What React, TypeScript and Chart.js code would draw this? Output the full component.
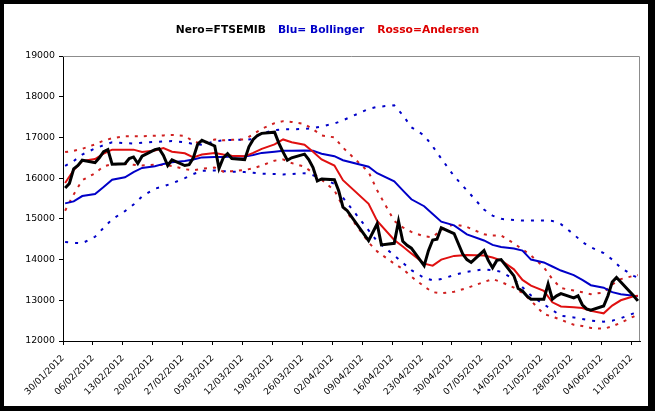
import { useEffect, useRef } from "react";
import { Chart, registerables } from "chart.js";

Chart.register(...registerables);

// weekly labels on the date axis (one every 7 days from 30/01/2012)
const weekLabels = [
  "30/01/2012", "06/02/2012", "13/02/2012", "20/02/2012", "27/02/2012",
  "05/03/2012", "12/03/2012", "19/03/2012", "26/03/2012", "02/04/2012",
  "09/04/2012", "16/04/2012", "23/04/2012", "30/04/2012", "07/05/2012",
  "14/05/2012", "21/05/2012", "28/05/2012", "04/06/2012", "11/06/2012",
];

// trading days, counted in calendar days from 30/01/2012
const tradeDays = [
  0, 1, 2, 3, 4, 7, 8, 9, 10, 11, 14, 15, 16, 17, 18, 21, 22, 23, 24, 25,
  28, 29, 30, 31, 32, 35, 36, 37, 38, 39, 42, 43, 44, 45, 46, 49, 50, 51, 52, 53,
  56, 57, 58, 59, 60, 63, 64, 65, 66, 71, 72, 73, 74, 77, 78, 79, 80, 81,
  84, 85, 86, 87, 88, 91, 93, 94, 95, 98, 99, 100, 101, 102,
  105, 106, 107, 108, 109, 112, 113, 114, 115, 116, 119, 120, 121, 122, 123,
  126, 127, 128, 129, 130, 133, 134,
];

const ftsemib = [
  15760, 15870, 16230, 16310, 16440, 16380, 16500, 16650, 16700, 16340,
  16355, 16480, 16520, 16360, 16540, 16700, 16725, 16560, 16310, 16450,
  16310, 16330, 16500, 16830, 16930, 16790, 16240, 16500, 16600, 16480,
  16455, 16770, 16950, 17050, 17100, 17130, 16860, 16640, 16440, 16500,
  16590, 16455, 16260, 15930, 15980, 15960, 15690, 15290, 15200,
  14465, 14670, 14880, 14360, 14400, 14940, 14450, 14350, 14280,
  13850, 14220, 14480, 14500, 14780, 14640, 14140, 14000, 13930,
  14220, 13980, 13800, 13980, 14000, 13600, 13290, 13230, 13110, 13025,
  13025, 13400, 13025, 13110, 13165, 13060, 13110, 12890, 12790, 12755,
  12860, 13110, 13450, 13560, 13450, 13110, 12985,
];

// days at which the smoother lines were read
const bandDays = [
  0, 2, 4, 7, 9, 11, 14, 16, 18, 21, 23, 25, 28, 30, 32, 35, 37, 39, 42, 44,
  46, 49, 51, 53, 56, 58, 60, 63, 65, 71, 73, 77, 79, 81, 84, 86, 88, 91, 94, 98,
  100, 102, 105, 107, 109, 112, 114, 116, 119, 121, 123, 126, 128, 130, 133, 134,
];

const bollMid = [
  15380, 15430, 15560, 15610, 15780, 15960, 16020, 16150, 16250, 16290,
  16350, 16390, 16420, 16460, 16510, 16520, 16520, 16530, 16530, 16570,
  16620, 16650, 16670, 16670, 16680, 16670, 16600, 16540, 16440, 16280,
  16120, 15920, 15700, 15480, 15310, 15120, 14930, 14840, 14620, 14470,
  14360, 14310, 14270, 14220, 14000, 13930, 13830, 13730, 13620, 13500,
  13370, 13310, 13200, 13150, 13110, 13100,
];

const bollUp = [
  16300, 16420, 16580, 16730, 16810, 16880, 16860, 16850, 16870, 16890,
  16900, 16910, 16880, 16840, 16820, 16900, 16930, 16940, 16940, 16960,
  17100, 17180, 17200, 17200, 17210, 17230, 17270, 17340, 17420, 17700,
  17750, 17790, 17550, 17250, 17050, 16780, 16480, 16050, 15700, 15230,
  15080, 15000, 14970, 14960, 14960, 14960, 14950, 14870, 14620, 14430,
  14300, 14160, 14000, 13800, 13600, 13560,
];

const bollLow = [
  14430, 14410, 14400, 14560, 14780, 14990, 15190, 15350, 15550, 15740,
  15800, 15870, 16000, 16100, 16180, 16190, 16170, 16160, 16150, 16130,
  16110, 16100, 16090, 16100, 16120, 16070, 15990, 15860, 15520, 14720,
  14450, 14100, 13920, 13740, 13550, 13490, 13520, 13620, 13700, 13760,
  13740, 13700, 13520, 13320, 13120, 12900, 12760, 12620, 12580, 12540,
  12500, 12475, 12500, 12560, 12680, 12720,
];

const andMid = [
  15880, 16200, 16420, 16470, 16600, 16700, 16700, 16700, 16640, 16680,
  16740, 16650, 16610, 16510, 16580, 16620, 16580, 16550, 16535, 16620,
  16720, 16830, 16950, 16880, 16820, 16650, 16460, 16310, 15950, 15370,
  14950, 14480, 14320, 14150, 13900, 13850, 14000, 14090, 14110, 14100,
  14050, 13980, 13760, 13500, 13360, 13230, 12950, 12850, 12830, 12810,
  12740, 12680, 12870, 13000, 13100, 13110,
];

const andUp = [
  16640, 16670, 16720, 16830, 16920, 16980, 17030, 17030, 17030, 17040,
  17050, 17060, 17040, 16900, 16850, 16950, 16930, 16940, 16950, 17080,
  17210, 17350, 17400, 17380, 17330, 17200, 17050, 17000, 16750, 16150,
  15700, 14950, 14790, 14680, 14570, 14550, 14730, 14870, 14800, 14620,
  14590, 14590, 14400, 14250, 14100, 13810, 13520, 13300, 13240, 13200,
  13150, 13190, 13390, 13520, 13600, 13620,
];

const andLow = [
  15200, 15600, 15950, 16120, 16290, 16340, 16350, 16330, 16310, 16330,
  16320, 16300, 16220, 16190, 16230, 16260, 16160, 16170, 16200, 16240,
  16310, 16430, 16460, 16370, 16280, 16130, 15960, 15700, 15300, 14420,
  14200, 13900, 13770, 13580, 13340, 13200, 13170, 13210, 13300, 13450,
  13520, 13450, 13310, 13180, 12990, 12660, 12600, 12520, 12400, 12370,
  12320, 12300, 12360, 12450, 12600, 12660,
];

const BLUE = "#0000c8";
const RED = "#e01010";
const RED_BAND = "#d02020";

// each day is drawn in the middle of its slot on the date axis
const toPoints = (days: number[], vals: number[]) =>
  days.map((d, i) => ({ x: d + 0.5, y: vals[i] }));

const plotFrame = {
  id: "plotFrame",
  beforeDatasetsDraw(chart: any) {
    const { ctx, chartArea } = chart;
    const { left, top, right, bottom } = chartArea;
    ctx.save();
    ctx.strokeStyle = "#8c8c8c";
    ctx.lineWidth = 1;
    ctx.beginPath();
    ctx.moveTo(left, top + 0.5);
    ctx.lineTo(right - 0.5, top + 0.5);
    ctx.lineTo(right - 0.5, bottom);
    ctx.stroke();
    ctx.restore();
  },
};

const App = () => {
  const canvasRef = useRef<HTMLCanvasElement | null>(null);
  const chartRef = useRef<Chart | null>(null);

  useEffect(() => {
    if (!canvasRef.current) return;
    if (chartRef.current) chartRef.current.destroy();

    const line = (data: any, color: string, width: number, dash: number[] = []) => ({
      data,
      borderColor: color,
      borderWidth: width,
      borderDash: dash,
      pointRadius: 0,
      tension: 0,
      fill: false,
    });

    chartRef.current = new Chart(canvasRef.current, {
      type: "line",
      data: {
        datasets: [
          { label: "FTSEMIB", ...line(toPoints(tradeDays, ftsemib), "#000000", 3) },
          { label: "Andersen", ...line(toPoints(bandDays, andMid), RED, 2) },
          { label: "Bollinger", ...line(toPoints(bandDays, bollMid), BLUE, 2) },
          { label: "Andersen sup", ...line(toPoints(bandDays, andUp), RED_BAND, 2, [3, 6]) },
          { label: "Andersen inf", ...line(toPoints(bandDays, andLow), RED_BAND, 2, [3, 6]) },
          { label: "Bollinger sup", ...line(toPoints(bandDays, bollUp), BLUE, 2, [3, 7]) },
          { label: "Bollinger inf", ...line(toPoints(bandDays, bollLow), BLUE, 2, [3, 7]) },
        ],
      },
      options: {
        animation: false,
        responsive: false,
        layout: { padding: { top: 52, right: 8, left: 0, bottom: 0 } },
        plugins: {
          legend: { display: false },
          title: { display: false },
          tooltip: { enabled: false },
        },
        scales: {
          x: {
            type: "linear",
            min: 0,
            max: 135,
            afterBuildTicks: (scale: any) => {
              scale.ticks = weekLabels.map((_, i) => ({ value: i * 7 }));
            },
            afterFit: (scale: any) => {
              scale.height = 65;
            },
            grid: { display: true, drawOnChartArea: false, drawTicks: true, tickLength: 4, color: "#000" },
            border: { display: true, color: "#000", width: 1 },
            ticks: {
              autoSkip: false,
              maxRotation: 45,
              minRotation: 45,
              padding: 8,
              color: "#000",
              font: { family: "'DejaVu Sans', sans-serif", size: 9 },
              callback: (value: any) => weekLabels[Math.round(Number(value) / 7)] ?? "",
            },
          },
          y: {
            min: 12000,
            max: 19000,
            afterFit: (scale: any) => {
              scale.width = 59;
            },
            grid: { display: true, drawOnChartArea: false, drawTicks: true, tickLength: 4, color: "#000" },
            border: { display: true, color: "#000", width: 1 },
            ticks: {
              stepSize: 1000,
              padding: 4,
              color: "#000",
              font: { family: "'DejaVu Sans', sans-serif", size: 9.4 },
              callback: (value: any) => String(value),
            },
          },
        },
      },
      plugins: [plotFrame],
    });

    return () => {
      if (chartRef.current) {
        chartRef.current.destroy();
        chartRef.current = null;
      }
    };
  }, []);

  return (
    <div
      style={{
        position: "absolute",
        left: 0,
        top: 0,
        width: 655,
        height: 411,
        boxSizing: "border-box",
        borderStyle: "solid",
        borderColor: "#000",
        borderWidth: "4px 7px 5px 4px",
        background: "#fff",
      }}
    >
      <div
        style={{
          position: "absolute",
          left: -4,
          top: 20,
          width: 655,
          textAlign: "center",
          fontFamily: "'DejaVu Sans', sans-serif",
          fontWeight: "bold",
          fontSize: "10.7px",
          lineHeight: "11px",
          whiteSpace: "nowrap",
        }}
      >
        <span style={{ color: "#000" }}>Nero=FTSEMIB</span>
        <span style={{ color: BLUE, marginLeft: 12 }}>Blu= Bollinger</span>
        <span style={{ color: "#dd0000", marginLeft: 13 }}>Rosso=Andersen</span>
      </div>
      <canvas ref={canvasRef} width={644} height={402} style={{ display: "block" }}></canvas>
    </div>
  );
};

export default App;
